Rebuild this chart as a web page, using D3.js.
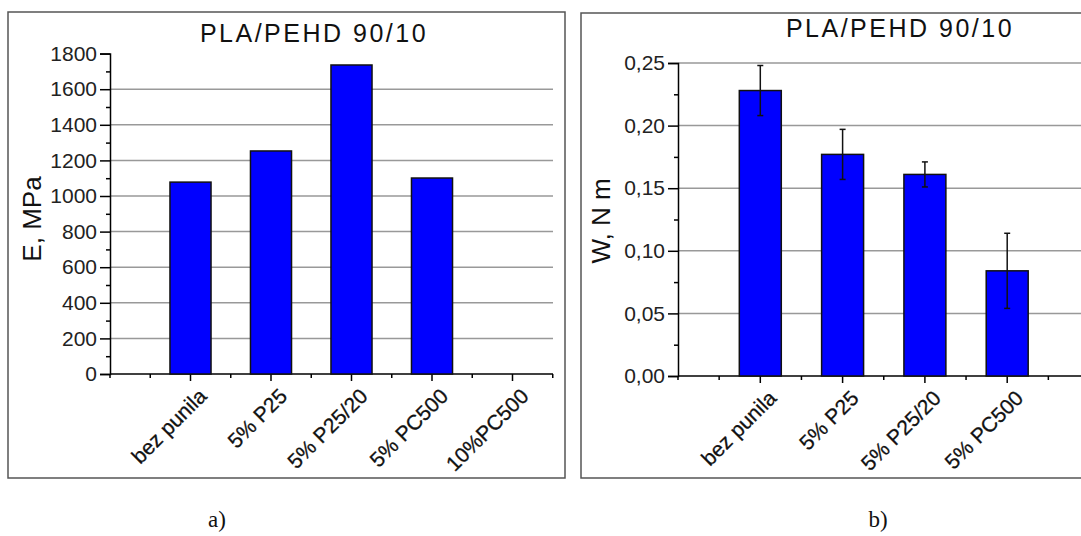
<!DOCTYPE html>
<html><head><meta charset="utf-8">
<script src="https://cdn.jsdelivr.net/npm/d3@7"></script>
<style>body{margin:0;background:#fff;} svg{display:block;}</style>
</head><body>
<svg id="c" width="1081" height="536"></svg>
<script>
const title = "PLA/PEHD 90/10";
const catsA = ["bez punila","5% P25","5% P25/20","5% PC500","10%PC500"];
const valsA = [1078, 1253, 1736, 1101, null];
const ticksA = [0,200,400,600,800,1000,1200,1400,1600,1800];
const catsB = ["bez punila","5% P25","5% P25/20","5% PC500"];
const valsB = [0.228, 0.177, 0.161, 0.084];
const errB  = [0.020, 0.020, 0.010, 0.030];
const ticksB = [0,0.05,0.10,0.15,0.20,0.25];

const svg = d3.select("#c");
const FONT = "'Liberation Sans', Arial, sans-serif";

function panel(o){
  const g = svg.append("g");
  g.append("rect").attr("x",o.frame[0]).attr("y",o.frame[1]).attr("width",o.frame[2]).attr("height",o.frame[3])
    .attr("fill","none").attr("stroke","#555").attr("stroke-width",1.5);
  const x = d3.scaleLinear().domain([0,5.5]).range([o.x0, o.x0 + 5.5*o.step]);
  const y = d3.scaleLinear().domain(o.ydom).range([o.y0, o.y1]);
  g.selectAll("line.grid").data(o.grid).join("line")
    .attr("x1",o.x0).attr("x2",o.xEnd).attr("y1",d=>y(d)).attr("y2",d=>y(d))
    .attr("stroke","#999").attr("stroke-width",1.5);
  const ya = d3.axisLeft(y).tickValues(o.ticks).tickSize(10).tickPadding(3).tickFormat(o.fmt);
  const yg = g.append("g").attr("transform",`translate(${o.x0},0)`).call(ya);
  yg.select(".domain").attr("stroke","#000").attr("stroke-width",1.5);
  yg.selectAll(".tick line").attr("stroke","#000").attr("stroke-width",1.5);
  yg.selectAll("text").attr("font-family",FONT).attr("font-size",21).attr("fill","#222");
  const ym = d3.axisLeft(y).tickValues(o.minor).tickSize(4).tickFormat("");
  const ymg = g.append("g").attr("transform",`translate(${o.x0},0)`).call(ym);
  ymg.select(".domain").remove();
  ymg.selectAll(".tick line").attr("stroke","#000").attr("stroke-width",1.5);
  g.append("line").attr("x1",o.x0).attr("x2",o.xEnd).attr("y1",o.y0).attr("y2",o.y0)
    .attr("stroke","#000").attr("stroke-width",1.5);
  const majors = o.cats.map((c,i)=>i+1);
  const minors = [0,0.5,1.5,2.5,3.5,4.5,5.5];
  g.selectAll("line.xmin").data(minors).join("line")
    .attr("x1",d=>x(d)).attr("x2",d=>x(d)).attr("y1",o.y0).attr("y2",o.y0+4)
    .attr("stroke","#000").attr("stroke-width",1.5);
  g.selectAll("line.xmaj").data(majors).join("line")
    .attr("x1",d=>x(d)).attr("x2",d=>x(d)).attr("y1",o.y0).attr("y2",o.y0+7)
    .attr("stroke","#000").attr("stroke-width",1.5);
  const bw = o.step*0.51;
  const bd = o.vals.map((v,i)=>({v,i,e:o.err?o.err[i]:null})).filter(d=>d.v!=null);
  g.selectAll("rect.bar").data(bd).join("rect")
    .attr("x",d=>x(d.i+1)-bw/2).attr("width",bw)
    .attr("y",d=>y(d.v)).attr("height",d=>o.y0-y(d.v))
    .attr("fill","#0000ff").attr("stroke","#111").attr("stroke-width",1.5);
  if(o.err){
    const eg = g.selectAll("g.err").data(bd).join("g");
    eg.append("line").attr("x1",d=>x(d.i+1)).attr("x2",d=>x(d.i+1))
      .attr("y1",d=>y(d.v+d.e)).attr("y2",d=>y(d.v-d.e)).attr("stroke","#111").attr("stroke-width",1.5);
    [1,-1].forEach(s=>{
      eg.append("line").attr("x1",d=>x(d.i+1)-3).attr("x2",d=>x(d.i+1)+3)
        .attr("y1",d=>y(d.v+s*d.e)).attr("y2",d=>y(d.v+s*d.e)).attr("stroke","#111").attr("stroke-width",1.5);
    });
  }
  g.selectAll("text.xl").data(o.cats).join("text")
    .attr("transform",(d,i)=>`translate(${x(i+1)+7},${o.y0+13}) rotate(-45)`)
    .attr("text-anchor","end").attr("dy","0.7em")
    .attr("font-family",FONT).attr("font-size",21).attr("fill","#111")
    .attr("stroke","#111").attr("stroke-width",0.3).text(d=>d);
  g.append("text").attr("x",o.tx).attr("y",o.ty).attr("text-anchor","middle")
    .attr("font-family",FONT).attr("font-size",25).attr("letter-spacing",2.5).attr("fill","#111").text(title);
  g.append("text").attr("transform",`translate(${o.ytx},${o.yty}) rotate(-90)`)
    .attr("text-anchor","middle").attr("font-family",FONT).attr("font-size",26).attr("fill","#111").text(o.ytitle);
  svg.append("text").attr("x",o.capx).attr("y",527).attr("text-anchor","middle")
    .attr("font-family","'Liberation Serif', 'Times New Roman', serif").attr("font-size",23).attr("fill","#111").text(o.cap);
}

panel({frame:[8,12,557,466], x0:110, step:80.5, xEnd:553, y0:374, y1:53.6, ydom:[0,1800],
  ticks:ticksA, minor:d3.range(100,1800,200), grid:ticksA.filter(d=>d>0&&d<1800), fmt:d3.format("d"),
  cats:catsA, vals:valsA, err:null, tx:314, ty:42, ytx:41, yty:219, ytitle:"E, MPa", capx:217, cap:"a)"});

panel({frame:[581,13,520,465], x0:678, step:82.3, xEnd:1090, y0:376, y1:63, ydom:[0,0.25],
  ticks:ticksB, minor:d3.range(0.025,0.25,0.05), grid:ticksB.filter(d=>d>0), fmt:d=>d3.format(".2f")(d).replace(".",","),
  cats:catsB, vals:valsB, err:errB, tx:900, ty:37, ytx:610, yty:221, ytitle:"W, N m", capx:878, cap:"b)"});
</script>
</body></html>
